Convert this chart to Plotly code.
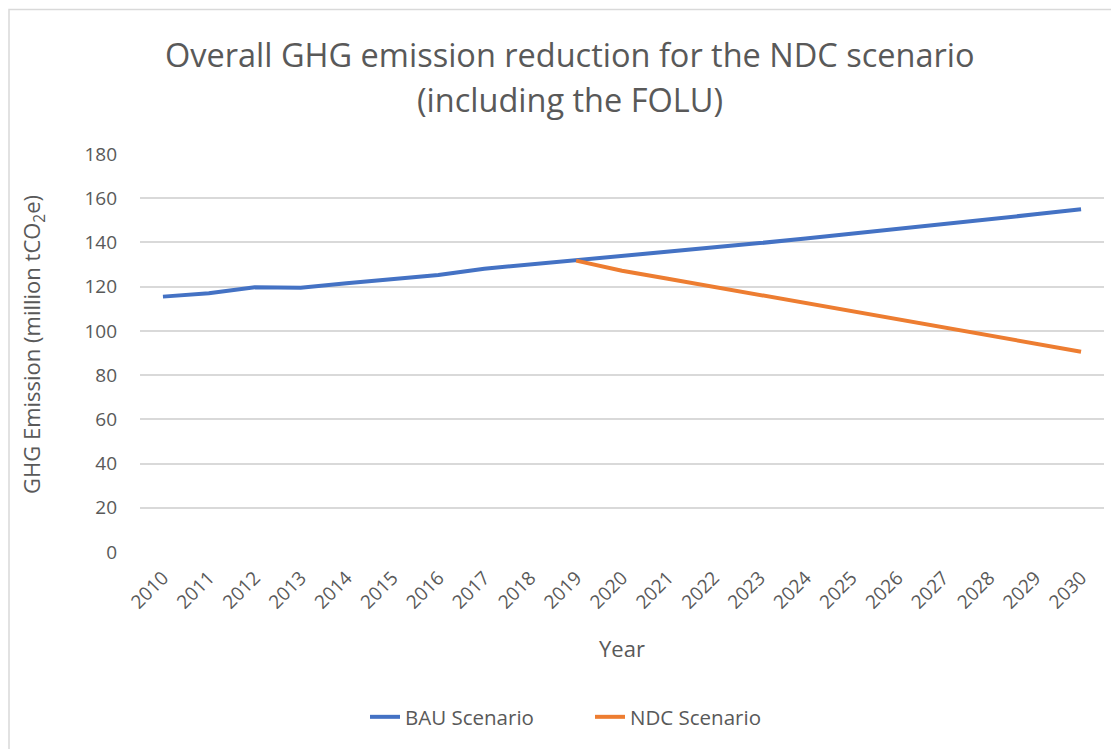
import plotly.graph_objects as go

years = list(range(2010, 2031))
bau = [115.5, 117.0, 119.7, 119.5, 121.5, 123.4, 125.3, 128.1, 130.0, 131.8,
       133.7, 135.6, 137.6, 139.7, 141.8, 143.9, 146.0, 148.2, 150.4, 152.7, 155.0]
ndc_years = list(range(2019, 2031))
ndc = [131.8, 127.2, 123.6, 119.9, 116.2, 112.6, 108.9, 105.2, 101.6, 97.9, 94.3, 90.6]

# page body has an 8px margin, so work in screen pixels and subtract it
OFF = 8
W, H = 1119 - OFF, 749 - OFF
L, R, T, B = 140 - OFF, 15, 154 - OFF, 197
GREY = "#595959"
FONT = "Open Sans"

fig = go.Figure()
fig.add_trace(go.Scatter(x=years, y=bau, mode="lines", name="BAU Scenario",
                         line=dict(color="#4472C4", width=4)))
fig.add_trace(go.Scatter(x=ndc_years, y=ndc, mode="lines", name="NDC Scenario",
                         line=dict(color="#ED7D31", width=4)))

pw = W - L - R
ph = H - T - B


def px_x(x):
    return (x - OFF - L) / pw


def px_y(y):
    return (H - B - (y - OFF)) / ph


# outer chart border (top and left edges visible in the crop)
fig.add_shape(type="rect", xref="paper", yref="paper", layer="below",
              x0=px_x(9), x1=px_x(1140), y0=px_y(770), y1=px_y(9.5),
              line=dict(color="#D9D9D9", width=1.5))


def label(text, x, y, size, angle=0):
    fig.add_annotation(text=text, xref="paper", yref="paper", x=px_x(x), y=px_y(y),
                       xanchor="center", yanchor="middle", textangle=angle,
                       showarrow=False, font=dict(size=size, color=GREY, family=FONT))


label("Overall GHG emission reduction for the NDC scenario", 570, 55, 32.5)
label("(including the FOLU)", 570, 100, 32.5)
label("Year", 622, 648, 22)
label("GHG Emission (million tCO<sub>2</sub>e)", 33, 345, 22, angle=-90)

fig.update_layout(
    width=W, height=H,
    margin=dict(l=L, r=R, t=T, b=B, autoexpand=False),
    paper_bgcolor="white", plot_bgcolor="white",
    font=dict(family=FONT, color=GREY, size=19),
    legend=dict(orientation="h", x=px_x(590), xanchor="center", y=px_y(717), yanchor="middle",
                font=dict(size=20.5, color=GREY), entrywidth=180, entrywidthmode="pixels"),
    showlegend=True,
)
fig.update_xaxes(range=[2009.5, 2030.5], tickmode="array", tickvals=years,
                 ticktext=[str(y) for y in years], tickangle=-45,
                 showgrid=False, zeroline=False, showline=False, automargin=False,
                 tickfont=dict(size=19, color=GREY), ticklabelstandoff=10)
fig.update_yaxes(range=[0, 180], dtick=20, showgrid=True, gridcolor="#D9D9D9",
                 gridwidth=1.5, zeroline=False, showline=False, automargin=False,
                 tickfont=dict(size=19, color=GREY), ticklabelstandoff=22)

fig.write_html("out.html")
